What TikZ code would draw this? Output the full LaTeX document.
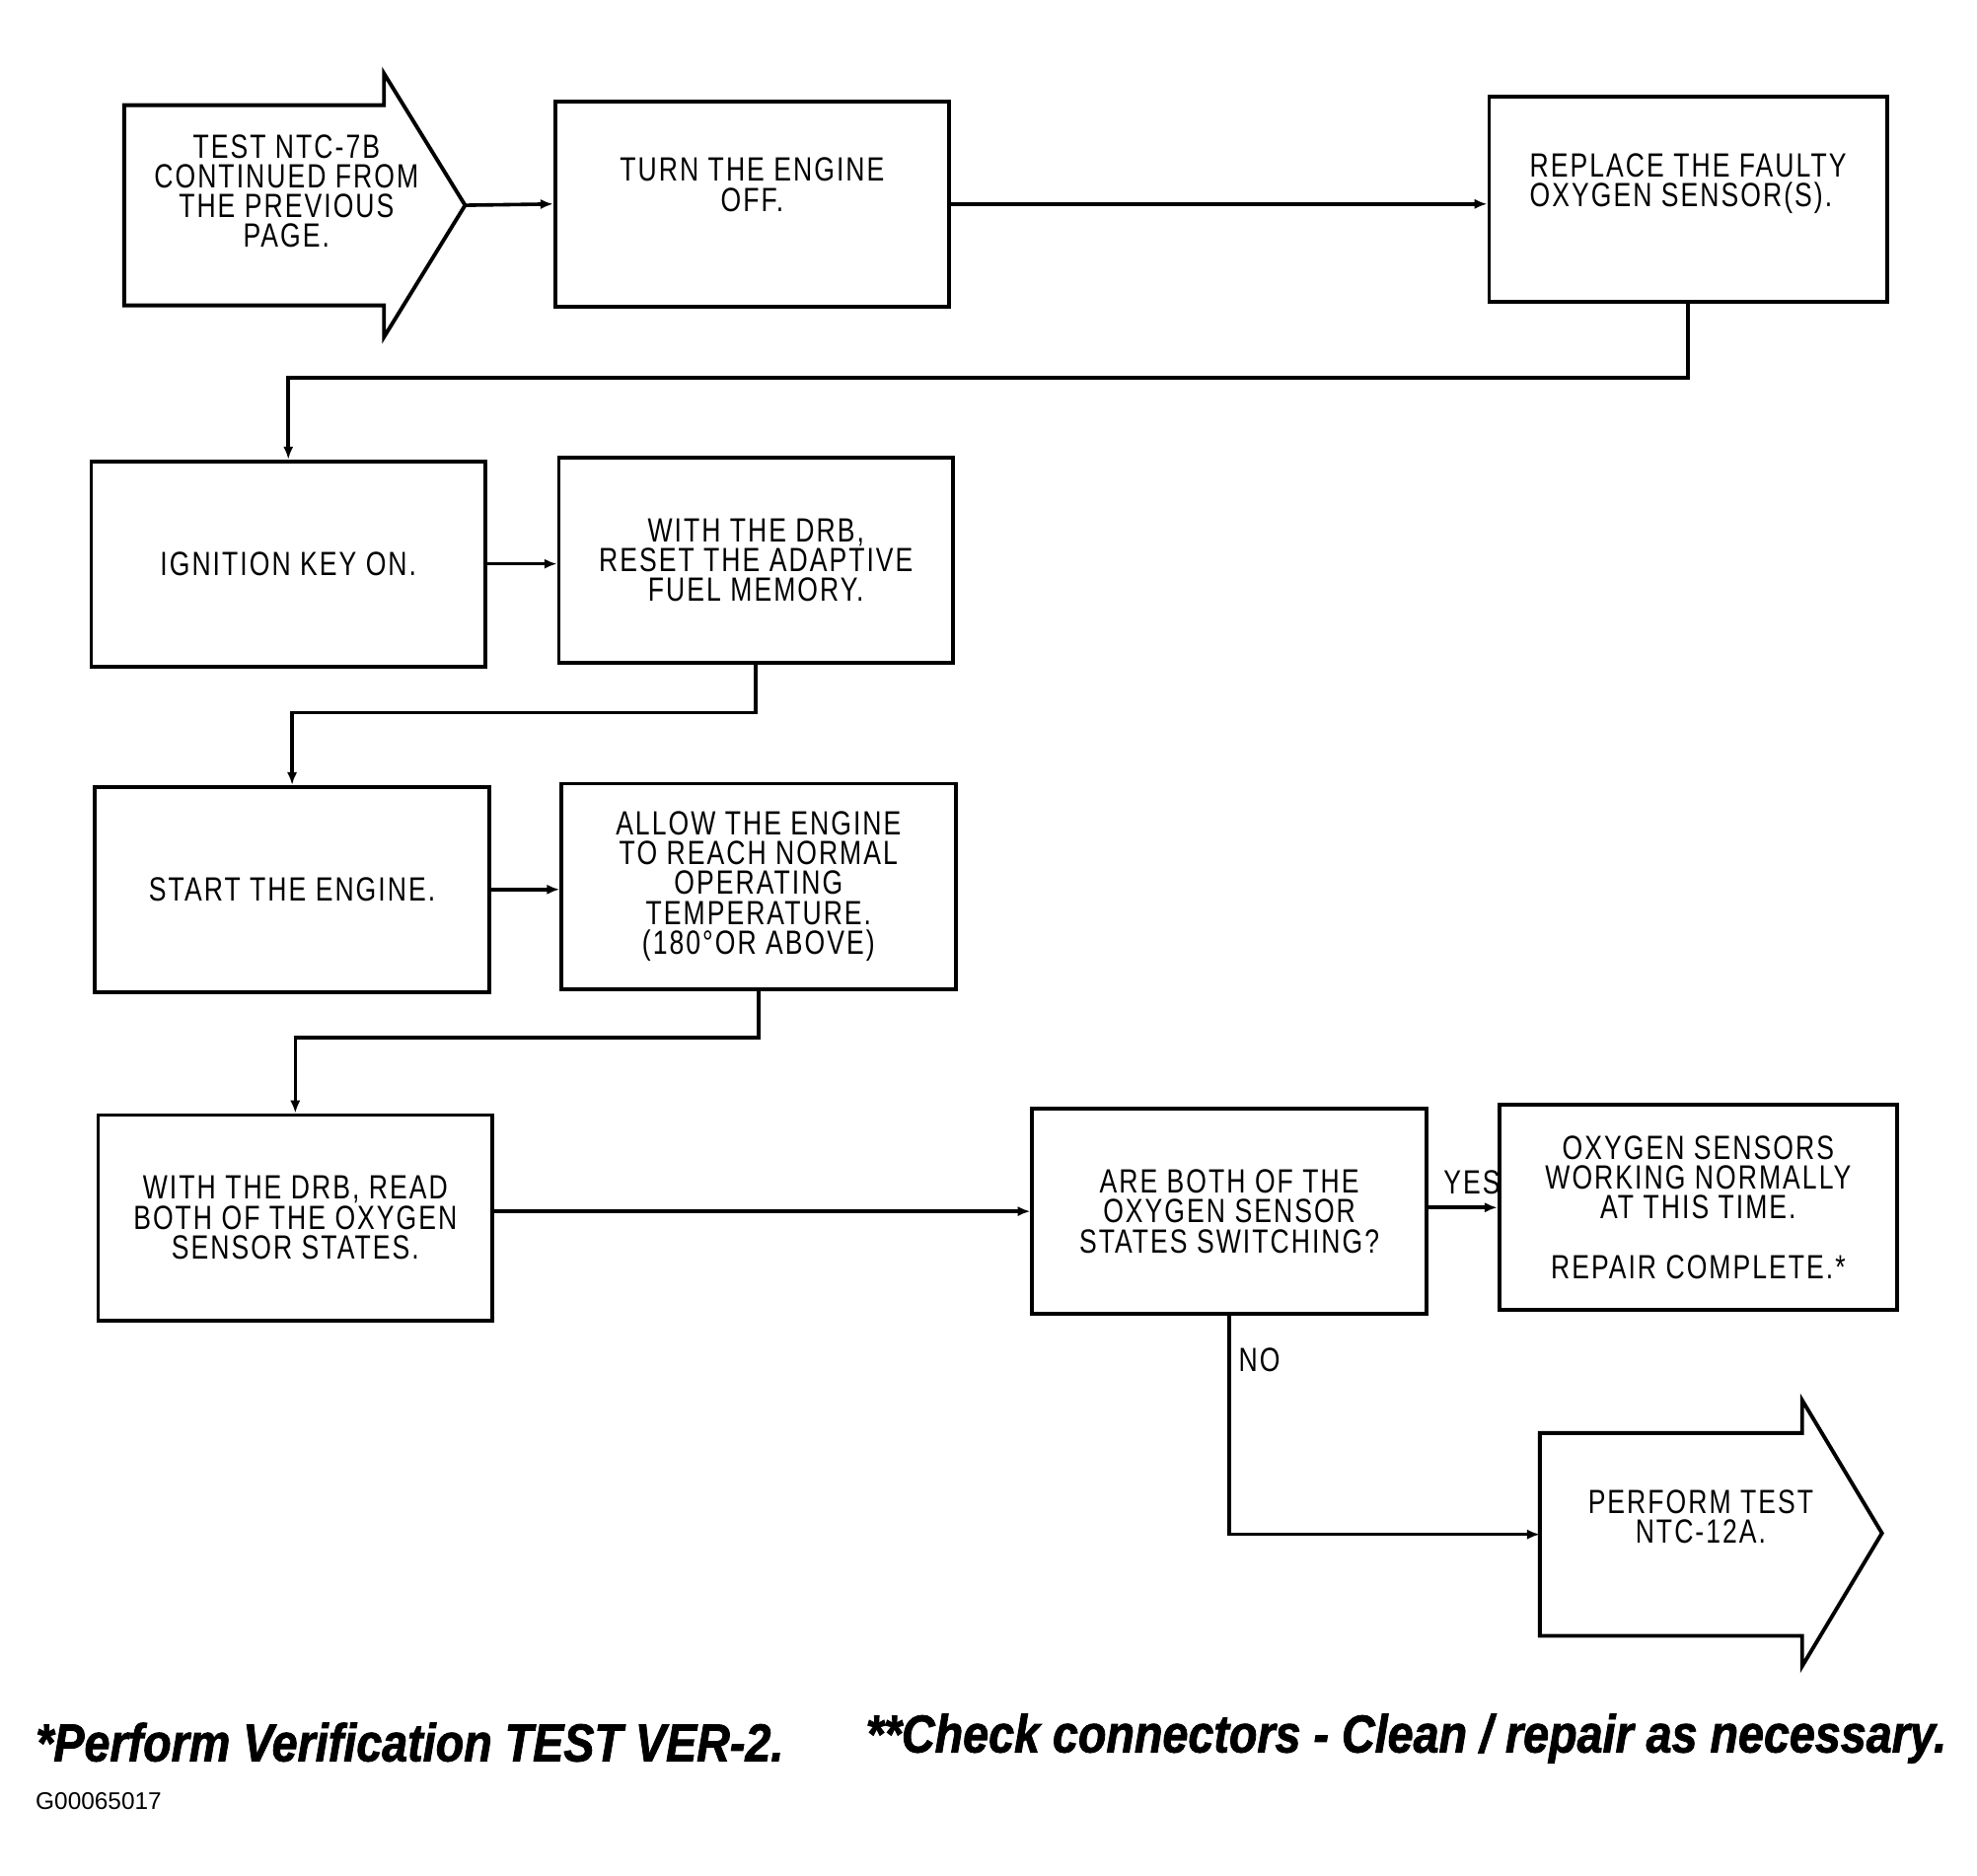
\documentclass[tikz,border=0pt]{standalone}
\usepackage{fontspec}
\setmainfont{Liberation Sans}
\newfontfamily\boxfont[FakeStretch=0.78, LetterSpace=6]{Liberation Sans}
\newfontfamily\notefont[FakeStretch=0.865, BoldItalicFeatures={FakeBold=1.5}]{Liberation Sans}
\usetikzlibrary{arrows, arrows.meta}
\usetikzlibrary{calc}

\tikzset{
  stepbox/.style={draw, line width=3pt, minimum width=311pt, minimum height=162pt, inner sep=0pt, align=center, font=\boxfont\fontsize{26.5}{23.5}\selectfont},
  boxtext/.style={inner sep=0pt, align=center, font=\boxfont\fontsize{26.5}{23.5}\selectfont},
  outline/.style={draw, line width=3pt, line join=miter},
  flow/.style={line width=2.8pt, -{Latex[length=10pt, width=8pt]}},
  note/.style={inner sep=0pt, anchor=base west, font=\notefont\bfseries\itshape\fontsize{42}{42}\selectfont},
}

\begin{document}
\begin{tikzpicture}[x=1pt, y=-1pt]
      \useasboundingbox (0,0) rectangle (1560,1480);

      % continued-from arrow
      \draw[outline] (98,83) -- (303,83) -- (303,58) -- (367,162) -- (303,266) -- (303,241) -- (98,241) -- cycle;
      \coordinate (starttip) at (367,162);
      \node[boxtext] (cont) at (226,151) {TEST NTC-7B\\CONTINUED FROM\\THE PREVIOUS\\PAGE.};

      \node[stepbox] (turn) at (593.5,161) {TURN THE ENGINE\\OFF.\\ \strut};
      \node[stepbox, minimum width=314pt, align=left] (replace) at (1332,157.5) {REPLACE THE FAULTY\\OXYGEN SENSOR(S).\\ \strut};
      \node[stepbox] (ignition) at (227.5,445) {IGNITION KEY ON.};
      \node[stepbox] (reset) at (596.5,442) {WITH THE DRB,\\RESET THE ADAPTIVE\\FUEL MEMORY.};
      \node[stepbox] (start) at (230.5,702) {START THE ENGINE.};
      \node[stepbox] (allow) at (598.5,699.5) {ALLOW THE ENGINE\\TO REACH NORMAL\\OPERATING\\TEMPERATURE.\\(180\textdegree OR ABOVE)};
      \node[stepbox] (read) at (233,961) {WITH THE DRB, READ\\BOTH OF THE OXYGEN\\SENSOR STATES.};
      \node[stepbox] (are) at (970,956) {ARE BOTH OF THE\\OXYGEN SENSOR\\STATES SWITCHING?};
      \node[stepbox, minimum width=314pt] (oxy) at (1340,953) {OXYGEN SENSORS\\WORKING NORMALLY\\AT THIS TIME.\\[23.5pt]REPAIR COMPLETE.*};

      % perform-test arrow
      \draw[outline] (1215,1131) -- (1422,1131) -- (1422,1105) -- (1485,1210) -- (1422,1315) -- (1422,1291) -- (1215,1291) -- cycle;
      \coordinate (perfleft) at (1215,1211);
      \node[boxtext] (perform) at (1342,1197) {PERFORM TEST\\NTC-12A.};

      \draw[flow] (starttip) -- (turn.west);
      \draw[flow] (turn.east) -- (turn.east -| replace.west);
      \draw[flow] (replace.south) -- ++(0,58) -| (ignition.north);
      \draw[flow] (ignition.east) -- (ignition.east -| reset.west);
      \draw[flow] (reset.south) -- ++(0,38) -| (start.north);
      \draw[flow] (start.east) -- (start.east -| allow.west);
      \draw[flow] (allow.south) -- ++(0,37) -| (read.north);
      \draw[flow] (are.west -| read.east) -- (are.west);
      \draw[flow] (are.east |- oxy.west) -- (oxy.west) node[boxtext, pos=0.63, above=9pt] (yes) {YES};
      \draw[flow] (are.south) |- (perfleft) node[boxtext, pos=0.1, right=6pt] (no) {NO};

      \node[note] (verify) at (28,1390) {*Perform Verification TEST VER-2.};
      \node[note] (check) at (683,1383) {**Check connectors - Clean / repair as necessary.};
      \node[inner sep=0pt, anchor=base west, font=\fontsize{19}{19}\selectfont] (figno) at (28,1428) {G00065017};
    \end{tikzpicture}
\end{document}
